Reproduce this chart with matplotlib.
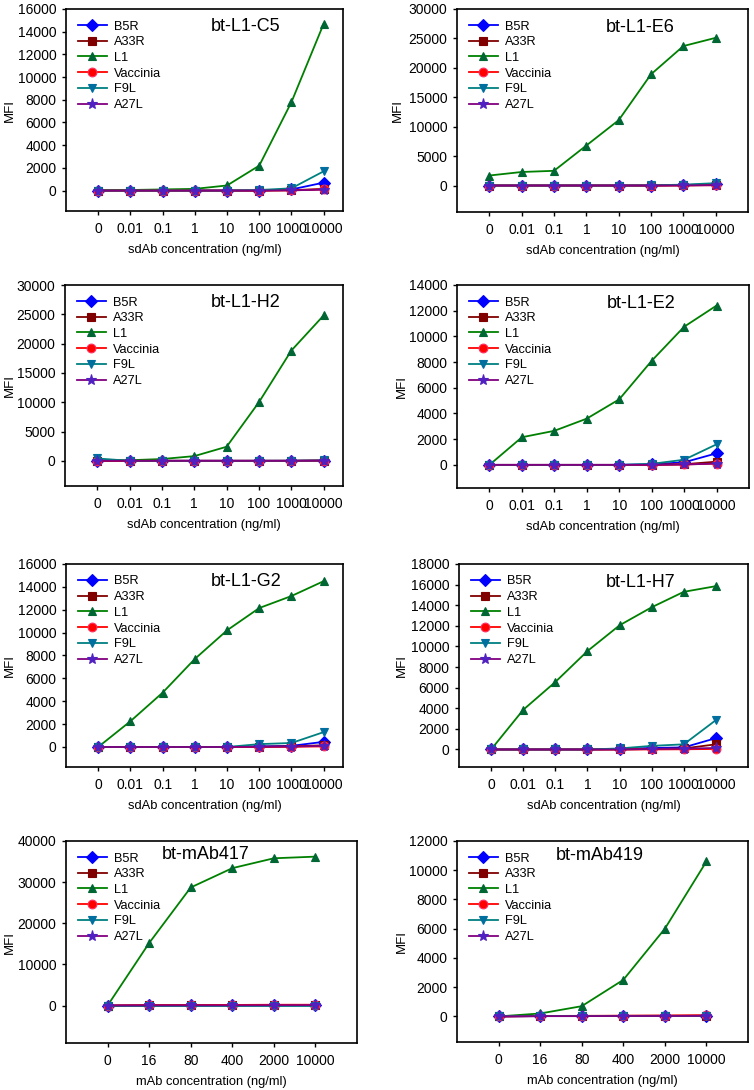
import matplotlib
matplotlib.use('Agg')
import matplotlib.pyplot as plt

plt.rcParams['font.family'] = ['Liberation Sans', 'DejaVu Sans']

# x categories
sd_ticks = ['0', '0.01', '0.1', '1', '10', '100', '1000', '10000']
mab_ticks = ['0', '16', '80', '400', '2000', '10000']

antigens = ['B5R', 'A33R', 'L1', 'Vaccinia', 'F9L', 'A27L']
line_colors = ['#0000ff', '#800000', '#008000', '#ff0000', '#008080', '#800080']
marker_colors = ['#0000ff', '#800000', '#006633', '#ff0000', '#006f9f', '#5020c0']
marker_edges = ['#0000ff', '#800000', '#006633', '#ff3060', '#006f9f', '#5020c0']
markers = ['D', 's', '^', 'o', 'v', '*']

# MFI values per panel, order: B5R, A33R, L1, Vaccinia, F9L, A27L
c5_b5r = [0, 0, 0, 0, 0, 0, 100, 700]
c5_a33r = [0, 0, 0, 0, 0, 0, 30, 150]
c5_l1 = [30, 50, 100, 150, 450, 2200, 7800, 14700]
c5_vac = [0, 0, 0, 0, 0, 0, 20, 100]
c5_f9l = [0, 0, 0, 0, 0, 50, 200, 1700]
c5_a27l = [0, 0, 0, 0, 0, 0, 20, 80]

e6_b5r = [0, 0, 0, 0, 0, 0, 80, 200]
e6_a33r = [0, 0, 0, 0, 0, 0, 30, 100]
e6_l1 = [1700, 2300, 2500, 6800, 11100, 18900, 23700, 25100]
e6_vac = [0, 0, 0, 0, 0, 0, 20, 50]
e6_f9l = [0, 0, 0, 0, 0, 30, 150, 400]
e6_a27l = [0, 0, 0, 0, 0, 0, 20, 60]

h2_b5r = [0, 0, 0, 0, 0, 0, 0, 50]
h2_a33r = [0, 0, 0, 0, 0, 0, 0, 50]
h2_l1 = [100, 100, 300, 800, 2400, 10000, 18800, 24800]
h2_vac = [0, 0, 0, 0, 0, 0, 0, 30]
h2_f9l = [400, 0, 0, 0, 0, 0, 20, 60]
h2_a27l = [0, 0, 0, 0, 0, 0, 0, 30]

e2_b5r = [0, 0, 0, 0, 0, 50, 200, 900]
e2_a33r = [0, 0, 0, 0, 0, 0, 50, 250]
e2_l1 = [0, 2150, 2650, 3600, 5100, 8100, 10750, 12400]
e2_vac = [0, 0, 0, 0, 0, 0, 30, 100]
e2_f9l = [0, 0, 0, 0, 0, 80, 400, 1600]
e2_a27l = [0, 0, 0, 0, 0, 0, 30, 100]

g2_b5r = [0, 0, 0, 0, 0, 50, 100, 450]
g2_a33r = [0, 0, 0, 0, 0, 20, 50, 150]
g2_l1 = [0, 2250, 4750, 7700, 10200, 12150, 13200, 14500]
g2_vac = [0, 0, 0, 0, 0, 0, 20, 50]
g2_f9l = [0, 0, 0, 0, 0, 250, 350, 1300]
g2_a27l = [0, 0, 0, 0, 0, 20, 40, 100]

h7_b5r = [0, 0, 0, 0, 50, 150, 200, 1100]
h7_a33r = [0, 0, 0, 0, 0, 50, 100, 500]
h7_l1 = [0, 3850, 6550, 9550, 12050, 13800, 15300, 15850]
h7_vac = [0, 0, 0, 0, 0, 0, 20, 50]
h7_f9l = [0, 0, 0, 0, 100, 350, 500, 2850]
h7_a27l = [0, 0, 0, 0, 0, 50, 80, 150]

m417_b5r = [0, 50, 50, 80, 100, 100]
m417_a33r = [0, 50, 80, 100, 150, 150]
m417_l1 = [0, 15200, 28700, 33400, 35800, 36200]
m417_vac = [0, 80, 100, 150, 200, 200]
m417_f9l = [0, 0, 0, 0, 0, 0]
m417_a27l = [0, 30, 50, 50, 80, 100]

m419_b5r = [0, 20, 20, 30, 30, 40]
m419_a33r = [0, 20, 30, 40, 50, 60]
m419_l1 = [0, 200, 700, 2500, 6000, 10600]
m419_vac = [0, 30, 40, 50, 60, 80]
m419_f9l = [0, 0, 0, 0, 0, 0]
m419_a27l = [0, 20, 20, 30, 30, 40]

panels = [
    # title, ticks, series, ylim, ytick step, axes rect (px), xlim, title pos, MFI x (px)
    ('bt-L1-C5', sd_ticks, [c5_b5r, c5_a33r, c5_l1, c5_vac, c5_f9l, c5_a27l],
     (-1800, 16000), 2000, (66, 9, 343, 211), (-1, 7.6), (0.65, 0.915), 10),
    ('bt-L1-E6', sd_ticks, [e6_b5r, e6_a33r, e6_l1, e6_vac, e6_f9l, e6_a27l],
     (-4500, 30000), 5000, (457, 9, 748, 212), (-1, 8), (0.63, 0.91), 398),
    ('bt-L1-H2', sd_ticks, [h2_b5r, h2_a33r, h2_l1, h2_vac, h2_f9l, h2_a27l],
     (-4300, 30000), 5000, (65, 285, 343, 486), (-1, 7.6), (0.65, 0.915), 10),
    ('bt-L1-E2', sd_ticks, [e2_b5r, e2_a33r, e2_l1, e2_vac, e2_f9l, e2_a27l],
     (-1800, 14000), 2000, (457, 285, 749, 488), (-1, 8), (0.63, 0.91), 402),
    ('bt-L1-G2', sd_ticks, [g2_b5r, g2_a33r, g2_l1, g2_vac, g2_f9l, g2_a27l],
     (-1750, 16000), 2000, (66, 564, 343, 767), (-1, 7.6), (0.65, 0.915), 10),
    ('bt-L1-H7', sd_ticks, [h7_b5r, h7_a33r, h7_l1, h7_vac, h7_f9l, h7_a27l],
     (-1700, 18000), 2000, (459, 564, 748, 767), (-1, 8), (0.63, 0.91), 402),
    ('bt-mAb417', mab_ticks, [m417_b5r, m417_a33r, m417_l1, m417_vac, m417_f9l, m417_a27l],
     (-9100, 40000), 10000, (66, 841, 357, 1043), (-1, 6), (0.48, 0.935), 10),
    ('bt-mAb419', mab_ticks, [m419_b5r, m419_a33r, m419_l1, m419_vac, m419_f9l, m419_a27l],
     (-1750, 12000), 2000, (457, 841, 748, 1042), (-1, 6), (0.49, 0.93), 402),
]

W, H = 754, 1090
fig = plt.figure(figsize=(W / 100, H / 100), dpi=100)

for title, ticks, series, ylim, step, rect, xlim, tpos, mfi_x in panels:
    l, t, r, b = rect
    ax = fig.add_axes([l / W, 1 - b / H, (r - l) / W, (b - t) / H])
    x = list(range(len(ticks)))
    for k, vals in enumerate(series):
        ax.plot(x, vals, color=line_colors[k], lw=1.3, marker=markers[k],
                markersize=8 if markers[k] == '*' else 6.3,
                markerfacecolor=marker_colors[k], markeredgecolor=marker_edges[k],
                markeredgewidth=0.8, label=antigens[k])
    ax.set_xlim(*xlim)
    ax.set_ylim(*ylim)
    ax.set_xticks(x)
    ax.set_xticklabels(ticks)
    ax.set_yticks(range(0, ylim[1] + 1, step))
    ax.tick_params(direction='out', length=3, width=1, labelsize=10, pad=4)
    ax.tick_params(axis='x', pad=5)
    for sp in ax.spines.values():
        sp.set_linewidth(1.2)
    if ticks is sd_ticks:
        ax.set_xlabel('sdAb concentration (ng/ml)', fontsize=9.3, labelpad=6)
    else:
        ax.set_xlabel('mAb concentration (ng/ml)', fontsize=9.3, labelpad=6)
    ax.set_ylabel('MFI', fontsize=9.5, va='center')
    ax.yaxis.set_label_coords((mfi_x - l) / (r - l), 0.5)
    ax.text(tpos[0], tpos[1], title, transform=ax.transAxes, ha='center',
            va='center', fontsize=13)
    ax.legend(loc='upper left', frameon=False, fontsize=9.2, handlelength=2.3,
              labelspacing=0.29, borderaxespad=0.3, handletextpad=0.55,
              borderpad=0.6)

fig.savefig('out.png', dpi=100)
